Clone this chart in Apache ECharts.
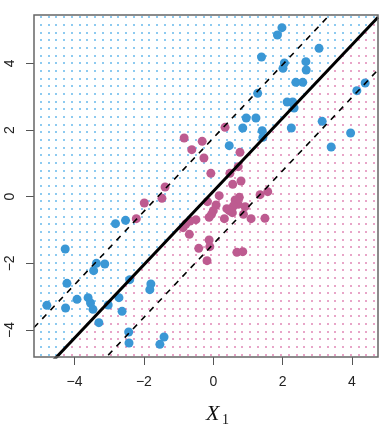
<!DOCTYPE html>
<html><head><meta charset="utf-8">
<script src="https://cdn.jsdelivr.net/npm/echarts@6/dist/echarts.min.js"></script>
<style>html,body{margin:0;padding:0;background:#fff}#c{width:392px;height:432px}</style>
</head><body><div id="c"></div>
<script>
// ---- data ----
const xTicks = [-4, -2, 0, 2, 4];
const yTicks = [-4, -2, 0, 2, 4];
const xRange = [-5.17, 4.75];
const yRange = [-4.81, 5.45];

const blueX = [1.98, 1.85, 3.05, 1.39, 2.05, 2.01, 2.67, 2.68, 2.38, 2.58, 1.28, 2.13, 2.29, 2.33, 0.95, 1.23, 0.85, 1.41, 1.43, 2.25, 3.14, 3.96, 4.38, 4.14, 3.40, 0.46,
  -2.53, -2.82, -4.27, -3.37, -3.45, -3.13, -2.41, -1.80, -1.83, -4.22, -3.61, -3.54, -3.47, -3.93, -4.26, -4.80, -3.03, -2.72, -2.63, -3.30, -2.44, -2.43, -1.54, -1.42];
const blueY = [5.07, 4.85, 4.45, 4.19, 4.01, 3.85, 4.05, 3.80, 3.43, 3.43, 3.10, 2.84, 2.84, 2.66, 2.36, 2.36, 2.06, 1.98, 1.78, 2.06, 2.26, 1.91, 3.41, 3.18, 1.49, 1.53,
  -0.71, -0.81, -1.57, -2.00, -2.22, -2.02, -2.49, -2.62, -2.79, -2.60, -3.03, -3.19, -3.38, -3.08, -3.34, -3.26, -3.25, -3.03, -3.44, -3.78, -4.06, -4.39, -4.43, -4.21];

const pinkX = [0.34, -0.32, -0.62, -0.27, 0.77, -0.84, -0.07, 0.48, 0.72, 0.56, 0.80, 0.17, 0.75, 0.63, 1.35, 1.57, -1.39, -1.48, -1.99, -2.22,
  0.08, 0.00, -0.05, -0.12, 0.72, 0.58, 0.39, 0.46, 0.55, 0.32, 0.92, 0.87, 1.09, 1.49, -0.50, -0.67, -0.79, -0.87, -0.69, -0.12, -0.10, -0.42, -0.18, 0.68, 0.85, -0.17];
const pinkY = [2.08, 1.66, 1.41, 1.16, 1.33, 1.76, 0.70, 0.70, 0.90, 0.37, 0.47, 0.03, -0.02, -0.10, 0.06, 0.15, 0.29, -0.05, -0.19, -0.66,
  -0.25, -0.42, -0.53, -0.62, -0.23, -0.28, -0.36, -0.42, -0.48, -0.66, -0.30, -0.53, -0.66, -0.65, -0.69, -0.73, -0.82, -0.93, -1.13, -1.30, -1.50, -1.55, -1.92, -1.67, -1.65, -0.15];

const hyperIntercept = 0.16;
const hyperSlope = 1.10;
const marginUpper = 1.60;
const marginLower = -1.58;

// ---- helpers ----
function zip(xs, ys) { return xs.map((x, i) => [x, ys[i]]); }
function lineAt(b) {
  return [[xRange[0], b + hyperSlope * xRange[0]], [xRange[1], b + hyperSlope * xRange[1]]];
}
function dotTile(color) {
  const c = document.createElement('canvas');
  c.width = 31; c.height = 23;
  const g = c.getContext('2d');
  g.fillStyle = color;
  [1, 9, 17, 24].forEach(px => [1, 9, 16].forEach(py => g.fillRect(px, py, 2, 2)));
  return c;
}
const minus = v => String(v).replace('-', '\u2212');

const chart = echarts.init(document.getElementById('c'), null, { renderer: 'canvas' });
const hyper = lineAt(hyperIntercept);

chart.setOption({
  animation: false,
  backgroundColor: '#fff',
  grid: { left: 34, top: 15, right: 14, bottom: 75, show: true, borderColor: '#666', borderWidth: 1.5, backgroundColor: 'transparent', z: 10 },
  xAxis: {
    type: 'value', min: xRange[0], max: xRange[1],
    axisLine: { show: false, onZero: false }, splitLine: { show: false },
    axisTick: { show: true, customValues: xTicks, length: 8, lineStyle: { color: '#555', width: 1 } },
    axisLabel: { customValues: xTicks, formatter: minus, fontSize: 14, color: '#222', margin: 18, fontFamily: 'Liberation Sans' }
  },
  yAxis: {
    type: 'value', min: yRange[0], max: yRange[1],
    axisLine: { show: false, onZero: false }, splitLine: { show: false },
    axisTick: { show: true, customValues: yTicks, length: 8, lineStyle: { color: '#555', width: 1 } },
    axisLabel: { customValues: yTicks, formatter: minus, fontSize: 14, color: '#222', margin: 17, rotate: 90, fontFamily: 'Liberation Sans' }
  },
  graphic: [
    { type: 'text', left: 206, top: 403, z: 100, style: { text: 'X', font: 'italic 22px "Liberation Serif"', fill: '#111' } },
    { type: 'text', left: 222, top: 413, z: 100, style: { text: '1', font: '14px "Liberation Serif"', fill: '#111' } }
  ],
  series: [
    { type: 'line', data: hyper, showSymbol: false, silent: true, z: 1,
      lineStyle: { width: 0, opacity: 0 },
      areaStyle: { origin: 'end', opacity: 1, color: { image: dotTile('#8dcaf0'), repeat: 'repeat' } } },
    { type: 'line', data: hyper, showSymbol: false, silent: true, z: 1,
      lineStyle: { width: 0, opacity: 0 },
      areaStyle: { origin: 'start', opacity: 1, color: { image: dotTile('#e8a5c8'), repeat: 'repeat' } } },
    { type: 'scatter', data: zip(pinkX, pinkY), symbolSize: 9, z: 3, itemStyle: { color: '#bd5b90', opacity: 1 } },
    { type: 'scatter', data: zip(blueX, blueY), symbolSize: 9, z: 3, itemStyle: { color: '#3a97d5', opacity: 1 } },
    { type: 'line', data: hyper, showSymbol: false, z: 4, lineStyle: { color: '#000', width: 3 } },
    { type: 'line', data: lineAt(hyperIntercept + marginUpper), showSymbol: false, z: 4, lineStyle: { color: '#000', width: 1.6, type: [6, 6] } },
    { type: 'line', data: lineAt(hyperIntercept + marginLower), showSymbol: false, z: 4, lineStyle: { color: '#000', width: 1.6, type: [6, 6] } }
  ]
});
</script></body></html>
